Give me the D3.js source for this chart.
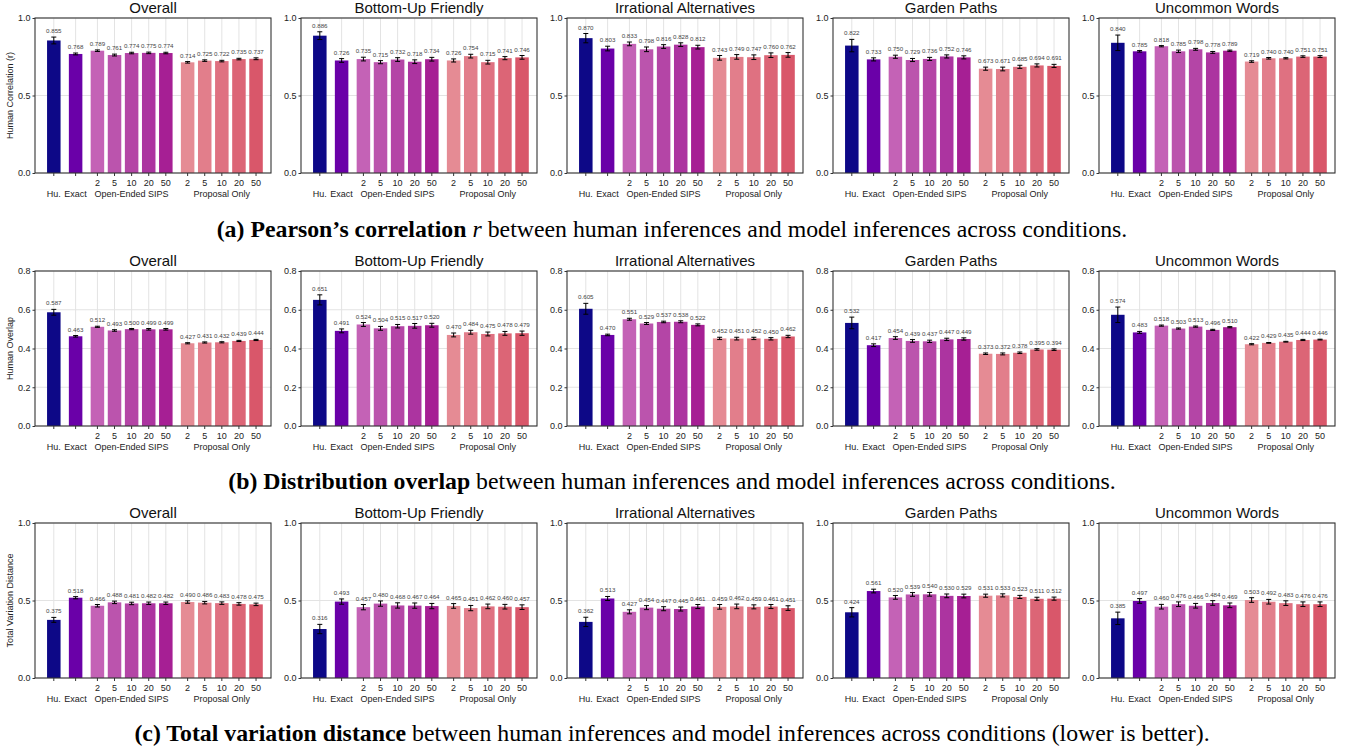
<!DOCTYPE html>
<html>
<head>
<meta charset="utf-8">
<script src="https://cdn.jsdelivr.net/npm/d3@7"></script>
<style>
  body { margin: 0; background: #fff; }
  svg text { font-family: "Liberation Sans", Arial, sans-serif; }
</style>
</head>
<body>
<div id="chart"></div>
<script>
// panel + bar names
var panelTitles = ["Overall", "Bottom-Up Friendly", "Irrational Alternatives", "Garden Paths", "Uncommon Words"];
var numberLabels = ["", "", "2", "5", "10", "20", "50", "2", "5", "10", "20", "50"];
var groupLabels = ["Hu.", "Exact", "", "", "Open-Ended SIPS", "", "", "", "", "Proposal Only", "", ""];
var barGroups = [0, 1, 2, 2, 2, 2, 2, 3, 3, 3, 3, 3];
var barColors = ["#0d0887", "#6a00a8",
  "#c462b6", "#bb54ad", "#b445a6", "#ac34a0", "#a61f94",
  "#e58b94", "#e27e8b", "#df7181", "#dc6576", "#d9576a"];

// (a) pearson r
var corrMeans = [
  [0.855, 0.768, 0.789, 0.761, 0.774, 0.775, 0.774, 0.714, 0.725, 0.722, 0.735, 0.737],
  [0.886, 0.726, 0.735, 0.715, 0.732, 0.718, 0.734, 0.726, 0.754, 0.715, 0.741, 0.746],
  [0.870, 0.803, 0.833, 0.798, 0.816, 0.828, 0.812, 0.743, 0.749, 0.747, 0.760, 0.762],
  [0.822, 0.733, 0.750, 0.729, 0.736, 0.752, 0.746, 0.673, 0.671, 0.685, 0.694, 0.691],
  [0.840, 0.785, 0.818, 0.785, 0.798, 0.778, 0.789, 0.719, 0.740, 0.740, 0.751, 0.751]
];
var corrErrs = [
  [0.022, 0.006, 0.005, 0.006, 0.005, 0.005, 0.005, 0.005, 0.005, 0.005, 0.005, 0.006],
  [0.025, 0.012, 0.012, 0.010, 0.012, 0.012, 0.012, 0.010, 0.012, 0.012, 0.010, 0.012],
  [0.030, 0.015, 0.012, 0.015, 0.012, 0.012, 0.012, 0.015, 0.015, 0.015, 0.015, 0.015],
  [0.040, 0.010, 0.010, 0.010, 0.010, 0.010, 0.010, 0.010, 0.012, 0.010, 0.010, 0.010],
  [0.050, 0.005, 0.004, 0.008, 0.006, 0.006, 0.004, 0.005, 0.005, 0.004, 0.005, 0.006]
];

// (b) distribution overlap
var overlapMeans = [
  [0.587, 0.463, 0.512, 0.493, 0.500, 0.499, 0.499, 0.427, 0.431, 0.432, 0.439, 0.444],
  [0.651, 0.491, 0.524, 0.504, 0.515, 0.517, 0.520, 0.470, 0.484, 0.475, 0.478, 0.479],
  [0.605, 0.470, 0.551, 0.529, 0.537, 0.538, 0.522, 0.452, 0.451, 0.452, 0.450, 0.462],
  [0.532, 0.417, 0.454, 0.439, 0.437, 0.447, 0.449, 0.373, 0.372, 0.378, 0.395, 0.394],
  [0.574, 0.483, 0.518, 0.503, 0.513, 0.496, 0.510, 0.422, 0.429, 0.435, 0.444, 0.446]
];
var overlapErrs = [
  [0.015, 0.004, 0.003, 0.004, 0.003, 0.004, 0.004, 0.003, 0.003, 0.003, 0.003, 0.003],
  [0.026, 0.010, 0.010, 0.010, 0.009, 0.012, 0.010, 0.010, 0.010, 0.010, 0.010, 0.011],
  [0.028, 0.004, 0.005, 0.005, 0.004, 0.005, 0.005, 0.006, 0.007, 0.006, 0.006, 0.006],
  [0.030, 0.007, 0.007, 0.007, 0.006, 0.006, 0.006, 0.004, 0.005, 0.004, 0.004, 0.004],
  [0.040, 0.005, 0.003, 0.003, 0.003, 0.003, 0.003, 0.003, 0.002, 0.002, 0.003, 0.002]
];

// (c) total variation distance
var tvdMeans = [
  [0.375, 0.518, 0.466, 0.488, 0.481, 0.482, 0.482, 0.490, 0.486, 0.483, 0.478, 0.475],
  [0.316, 0.493, 0.457, 0.480, 0.468, 0.467, 0.464, 0.465, 0.451, 0.462, 0.460, 0.457],
  [0.362, 0.513, 0.427, 0.454, 0.447, 0.445, 0.461, 0.459, 0.462, 0.459, 0.461, 0.451],
  [0.424, 0.561, 0.520, 0.539, 0.540, 0.530, 0.529, 0.531, 0.533, 0.523, 0.511, 0.512],
  [0.385, 0.497, 0.460, 0.476, 0.466, 0.484, 0.469, 0.503, 0.492, 0.483, 0.476, 0.476]
];
var tvdErrs = [
  [0.016, 0.007, 0.008, 0.008, 0.008, 0.008, 0.008, 0.008, 0.008, 0.008, 0.008, 0.008],
  [0.030, 0.017, 0.017, 0.017, 0.017, 0.017, 0.017, 0.015, 0.017, 0.015, 0.015, 0.015],
  [0.030, 0.013, 0.013, 0.013, 0.013, 0.013, 0.013, 0.015, 0.015, 0.013, 0.013, 0.015],
  [0.030, 0.012, 0.012, 0.012, 0.012, 0.012, 0.012, 0.010, 0.010, 0.010, 0.010, 0.010],
  [0.040, 0.015, 0.015, 0.015, 0.015, 0.015, 0.015, 0.015, 0.015, 0.015, 0.015, 0.015]
];

var yLabels = ["Human Correlation (r)", "Human Overlap", "Total Variation Distance"];
var yMaxes = [1.0, 0.8, 1.0];
var yTicks = [[0, 0.5, 1.0], [0, 0.2, 0.4, 0.6, 0.8], [0, 0.5, 1.0]];

var svgWidth = 1345;
var svgHeight = 748;

var svg = d3.select("#chart")
    .append("svg")
    .attr("width", svgWidth)
    .attr("height", svgHeight);

var panelWidth = 236;
var panelHeight = 155;
var panelStep = 266;
var firstLeft = 35;
var rowTops = [18, 271, 523];

// bar positions: index plus a small gap between groups
var barPos = barGroups.map(function(g, i) { return i + 0.275 * g; });

var x = d3.scaleLinear()
    .domain([-1.1, 12.7])
    .range([0, panelWidth]);
var barW = (x(1) - x(0)) * 0.79;

var rowData = [
  { means: corrMeans, errs: corrErrs },
  { means: overlapMeans, errs: overlapErrs },
  { means: tvdMeans, errs: tvdErrs }
];

rowData.forEach(function(row, r) {
  var y = d3.scaleLinear()
      .domain([0, yMaxes[r]])
      .range([panelHeight, 0]);

  panelTitles.forEach(function(title, p) {
    var g = svg.append("g")
        .attr("transform", `translate(${firstLeft + p * panelStep}, ${rowTops[r]})`);

    // grid
    g.selectAll(".hgrid")
        .data(yTicks[r])
        .enter()
        .append("line")
        .attr("x1", 0).attr("x2", panelWidth)
        .attr("y1", d => y(d)).attr("y2", d => y(d))
        .attr("stroke", "#e3e3e3")
        .attr("stroke-width", 1);
    g.selectAll(".vgrid")
        .data(barPos)
        .enter()
        .append("line")
        .attr("x1", d => x(d)).attr("x2", d => x(d))
        .attr("y1", 0).attr("y2", panelHeight)
        .attr("stroke", "#e3e3e3")
        .attr("stroke-width", 1);

    var means = row.means[p];
    var errs = row.errs[p];

    g.selectAll("rect.bar")
        .data(means)
        .enter()
        .append("rect")
        .attr("x", (d, i) => x(barPos[i]) - barW / 2)
        .attr("y", d => y(d))
        .attr("width", barW)
        .attr("height", d => panelHeight - y(d))
        .style("fill", (d, i) => barColors[i]);

    // error bars
    var eb = g.selectAll("g.err")
        .data(means)
        .enter()
        .append("g")
        .attr("stroke", "#000")
        .attr("stroke-width", 1);
    eb.append("line")
        .attr("x1", (d, i) => x(barPos[i])).attr("x2", (d, i) => x(barPos[i]))
        .attr("y1", (d, i) => y(d - errs[i])).attr("y2", (d, i) => y(d + errs[i]));
    eb.append("line")
        .attr("x1", (d, i) => x(barPos[i]) - 2.5).attr("x2", (d, i) => x(barPos[i]) + 2.5)
        .attr("y1", (d, i) => y(d - errs[i])).attr("y2", (d, i) => y(d - errs[i]));
    eb.append("line")
        .attr("x1", (d, i) => x(barPos[i]) - 2.5).attr("x2", (d, i) => x(barPos[i]) + 2.5)
        .attr("y1", (d, i) => y(d + errs[i])).attr("y2", (d, i) => y(d + errs[i]));

    // value labels
    g.selectAll("text.val")
        .data(means)
        .enter()
        .append("text")
        .attr("x", (d, i) => x(barPos[i]))
        .attr("y", (d, i) => y(d + errs[i]) - 4)
        .attr("text-anchor", "middle")
        .attr("font-size", "6.2px")
        .attr("fill", "#444")
        .text(d => d3.format(".3f")(d));

    // frame
    g.append("rect")
        .attr("x", 0).attr("y", 0)
        .attr("width", panelWidth).attr("height", panelHeight)
        .attr("fill", "none")
        .attr("stroke", "#333")
        .attr("stroke-width", 1.1);

    // y axis
    var yAxis = g.append("g")
        .call(d3.axisLeft(y).tickValues(yTicks[r]).tickFormat(d3.format(".1f")).tickSize(2.5).tickPadding(2));
    yAxis.select(".domain").remove();
    yAxis.selectAll("line").attr("stroke", "#333");
    yAxis.selectAll("text")
        .attr("font-size", "9px")
        .attr("fill", "#222")
        .style("font-family", "Liberation Sans, Arial, sans-serif");

    // x ticks
    g.selectAll(".xtick")
        .data(barPos)
        .enter()
        .append("line")
        .attr("x1", d => x(d)).attr("x2", d => x(d))
        .attr("y1", panelHeight).attr("y2", panelHeight + 3)
        .attr("stroke", "#333");
    g.selectAll(".xnum")
        .data(numberLabels)
        .enter()
        .append("text")
        .attr("x", (d, i) => x(barPos[i]))
        .attr("y", panelHeight + 13)
        .attr("text-anchor", "middle")
        .attr("font-size", "9px")
        .attr("fill", "#222")
        .text(d => d);
    g.selectAll(".xgrp")
        .data(groupLabels)
        .enter()
        .append("text")
        .attr("x", (d, i) => x(barPos[i]))
        .attr("y", panelHeight + 24)
        .attr("text-anchor", "middle")
        .attr("font-size", "9px")
        .attr("fill", "#222")
        .text(d => d);

    // title
    g.append("text")
        .attr("x", panelWidth / 2)
        .attr("y", -5)
        .attr("text-anchor", "middle")
        .attr("font-size", "15px")
        .attr("fill", "#111")
        .text(title);

    if (p === 0) {
      g.append("text")
          .attr("transform", `translate(-22, ${panelHeight / 2}) rotate(-90)`)
          .attr("text-anchor", "middle")
          .attr("font-size", "9px")
          .attr("fill", "#222")
          .text(yLabels[r]);
    }
  });
});

// captions
var captions = [
  { bold: "(a) Pearson\u2019s correlation", ital: " r", rest: " between human inferences and model inferences across conditions.", y: 237 },
  { bold: "(b) Distribution overlap", ital: "", rest: " between human inferences and model inferences across conditions.", y: 489 },
  { bold: "(c) Total variation distance", ital: "", rest: " between human inferences and model inferences across conditions (lower is better).", y: 741 }
];

captions.forEach(function(c) {
  var t = svg.append("text")
      .attr("x", 672)
      .attr("y", c.y)
      .attr("text-anchor", "middle")
      .style("font-family", "Liberation Serif, Times New Roman, serif")
      .style("font-size", "23.8px")
      .attr("fill", "#000");
  t.append("tspan").attr("font-weight", "bold").text(c.bold);
  if (c.ital) t.append("tspan").attr("font-style", "italic").text(c.ital);
  t.append("tspan").text(c.rest);
});
</script>
</body>
</html>
